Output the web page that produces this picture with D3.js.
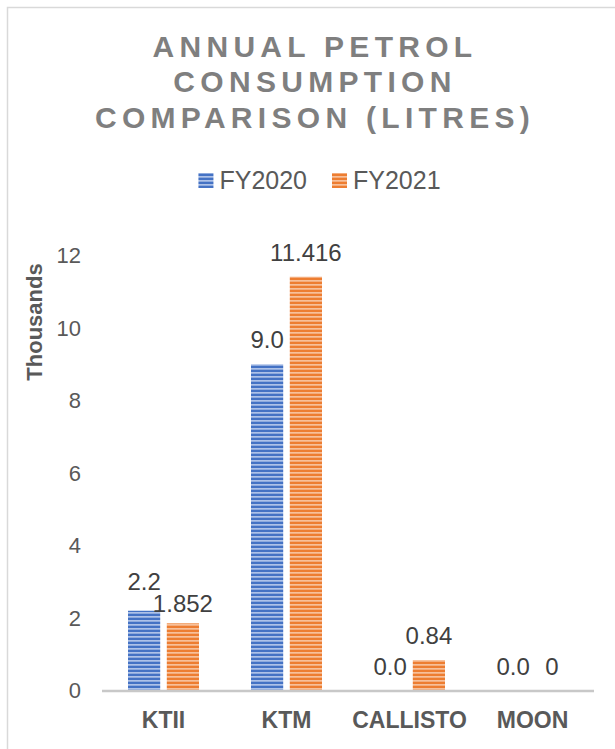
<!DOCTYPE html>
<html>
<head>
<meta charset="utf-8">
<script src="https://cdn.jsdelivr.net/npm/d3@7"></script>
<style>
  html, body { margin: 0; padding: 0; background: #fff; }
  svg { display: block; font-family: "Liberation Sans", Arial, sans-serif; }
</style>
</head>
<body>
<svg id="chart" width="615" height="749"></svg>
<script>
// Annual petrol consumption, in thousands of litres
const categories = ["KTII", "KTM", "CALLISTO", "MOON"];
const seriesNames = ["FY2020", "FY2021"];
const fy2020 = [2.2, 9.0, 0.0, 0.0];
const fy2021 = [1.852, 11.416, 0.84, 0];
const yTicks = [0, 2, 4, 6, 8, 10, 12];
const titleLines = ["ANNUAL PETROL", "CONSUMPTION", "COMPARISON (LITRES)"];

const seriesValues = [fy2020, fy2021];
const seriesColors = ["#4472c4", "#ed7d31"];
const stripeColors = ["#aec2e8", "#f7c09a"];
const labelFormats = [d3.format(".1f"), v => String(v)];

const svg = d3.select("#chart");

// outer chart frame
svg.append("rect")
  .attr("x", 7.5).attr("y", 7.5)
  .attr("width", 720).attr("height", 800)
  .attr("fill", "none").attr("stroke", "#d9d9d9").attr("stroke-width", 1.5);

// horizontal stripe fills for the bars
const defs = svg.append("defs");
seriesNames.forEach((s, i) => {
  const p = defs.append("pattern")
    .attr("id", "stripe" + i)
    .attr("patternUnits", "userSpaceOnUse")
    .attr("width", 8).attr("height", 4);
  p.append("rect").attr("width", 8).attr("height", 4).attr("fill", seriesColors[i]);
  p.append("rect").attr("y", 0).attr("width", 8).attr("height", 1.7).attr("fill", stripeColors[i]);
});

// title
svg.append("g").selectAll("text")
  .data(titleLines)
  .join("text")
  .attr("x", 315)
  .attr("y", (d, i) => 56.5 + i * 35.5)
  .attr("text-anchor", "middle")
  .attr("font-size", 30)
  .attr("font-weight", "bold")
  .attr("letter-spacing", 5.3)
  .attr("fill", "#7f7f7f")
  .text(d => d);

// scales
const x0 = d3.scaleBand().domain(categories).range([102, 594]).padding(0);
const x1 = d3.scaleBand().domain(seriesNames).range([26, 97]).paddingInner(0.17).paddingOuter(0);
const y = d3.scaleLinear().domain([0, 12]).range([690.5, 255.5]);

// y axis (labels only)
const yAxis = svg.append("g")
  .attr("transform", "translate(81,0)")
  .call(d3.axisLeft(y).tickValues(yTicks).tickSize(0).tickPadding(0).tickFormat(d3.format("d")));
yAxis.select(".domain").remove();
yAxis.selectAll("text")
  .attr("font-family", "Liberation Sans, Arial, sans-serif")
  .attr("font-size", 22)
  .attr("fill", "#595959");

svg.append("text")
  .attr("transform", "translate(42,322) rotate(-90)")
  .attr("text-anchor", "middle")
  .attr("font-size", 22)
  .attr("font-weight", "bold")
  .attr("fill", "#595959")
  .text("Thousands");

// bars
const rows = categories.map((c, ci) => ({
  cat: c,
  items: seriesNames.map((s, si) => ({ cat: c, s, si, v: seriesValues[si][ci] }))
}));

const groups = svg.append("g").selectAll("g")
  .data(rows)
  .join("g")
  .attr("transform", d => `translate(${x0(d.cat)},0)`);

groups.selectAll("rect")
  .data(d => d.items.filter(it => it.v > 0))
  .join("rect")
  .attr("x", d => x1(d.s))
  .attr("width", x1.bandwidth())
  .attr("y", d => y(d.v))
  .attr("height", d => y(0) - y(d.v))
  .attr("fill", d => `url(#stripe${d.si})`);

// category axis line
svg.append("line")
  .attr("x1", 102).attr("x2", 594)
  .attr("y1", y(0) + 0.5).attr("y2", y(0) + 0.5)
  .attr("stroke", "#c8c8c8").attr("stroke-width", 2.5);

// data labels, pushed apart when neighbours collide
groups.each(function (row) {
  const g = d3.select(this);
  const labels = row.items.map(it => ({
    ...it,
    text: labelFormats[it.si](it.v),
    cx: x1(it.s) + x1.bandwidth() / 2,
    by: y(it.v) - 16
  }));
  const texts = g.selectAll("text.val")
    .data(labels)
    .join("text")
    .attr("class", "val")
    .attr("x", d => d.cx)
    .attr("y", d => d.by)
    .attr("text-anchor", "middle")
    .attr("font-size", 24)
    .attr("fill", "#404040")
    .text(d => d.text);
  const nodes = texts.nodes();
  const w = nodes.map(n => n.getComputedTextLength());
  const [a, b] = labels;
  const hOverlap = (a.cx + w[0] / 2) > (b.cx - w[1] / 2);
  const minGap = 22;
  if (hOverlap && Math.abs(a.by - b.by) < minGap) {
    const mid = (a.by + b.by) / 2;
    const upper = a.by <= b.by ? 0 : 1;
    labels[upper].by = mid - minGap / 2;
    labels[1 - upper].by = mid + minGap / 2;
    texts.attr("y", d => d.by);
  }
});

// category labels
svg.append("g").selectAll("text")
  .data(categories)
  .join("text")
  .attr("x", d => x0(d) + x0.bandwidth() / 2)
  .attr("y", 728)
  .attr("text-anchor", "middle")
  .attr("font-size", 23)
  .attr("font-weight", "bold")
  .attr("fill", "#595959")
  .text(d => d);

// legend
const legend = svg.append("g");
const items = legend.selectAll("g")
  .data(seriesNames)
  .join("g");
items.append("rect")
  .attr("width", 15).attr("height", 15)
  .attr("y", 173)
  .attr("fill", (d, i) => `url(#stripe${i})`);
items.append("text")
  .attr("x", 21)
  .attr("y", 188.5)
  .attr("font-size", 25)
  .attr("fill", "#595959")
  .text(d => d);
let cursor = 0;
const widths = [];
items.each(function () {
  const tw = d3.select(this).select("text").node().getComputedTextLength();
  widths.push(21 + tw);
});
const total = d3.sum(widths) + 25 * (widths.length - 1);
cursor = 319.5 - total / 2;
items.each(function (d, i) {
  d3.select(this).attr("transform", `translate(${cursor},0)`);
  cursor += widths[i] + 25;
});
</script>
</body>
</html>
